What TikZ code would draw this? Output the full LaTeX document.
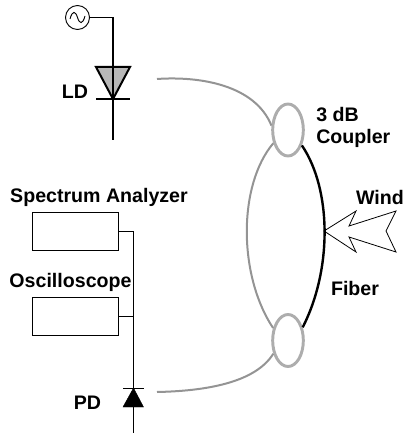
\documentclass[tikz,border=0pt]{standalone}
\usepackage{fontspec}
\setmainfont{Liberation Sans}
\usetikzlibrary{shapes.geometric}
\tikzset{
	lbl/.style={font=\bfseries\fontsize{14.7}{16.6}\selectfont,inner sep=0pt},
	coupler/.style={draw=black!32,line width=2.2pt,ellipse,minimum width=23pt,minimum height=39pt,inner sep=0pt},
	instr/.style={draw,line width=0.6pt,minimum width=64.5pt,minimum height=29pt,inner sep=0pt},
	fibre/.style={draw=black!42,line width=1.5pt},
	wire/.style={line width=1.5pt},
}
\begin{document}
\begin{tikzpicture}[x=0.75pt,y=-0.75pt]
	\useasboundingbox (0,0) rectangle (405,434);
	% laser branch
	\node[draw,circle,line width=0.7pt,minimum size=18pt,inner sep=0pt] (src) at (77.5,17.5) {};
	\coordinate (ldtop) at (113,17.5);
	\coordinate (ldl) at (96,67);
	\coordinate (ldr) at (130,67);
	\coordinate (ldk) at (113,99);
	\coordinate (ldkl) at (96,99);
	\coordinate (ldkr) at (130,99);
	\coordinate (ldend) at (113,140);
	\draw[line width=0.7pt] (70,19) .. controls (72.5,10) and (75.5,11) .. (77.5,17.5) .. controls (79.5,24) and (82.5,25) .. (85,16);
	\draw[fill=black!28,wire] (ldl) -- (ldr) -- (ldk) -- cycle;
	\draw[line width=1.1pt] (src) -- (ldtop);
	\draw[wire] (ldtop) -- (ldk) -- (ldend);
	\draw[wire] (ldkl) -- (ldkr);
	\node[lbl] (ld) at (75,92) {LD};
	% couplers and fibre
	\node[coupler] (cup) at (288,130) {};
	\node[coupler] (cdn) at (288,340.5) {};
	\coordinate (ldout) at (157,79);
	\coordinate (pdout) at (157,392);
	\draw[fibre] (ldout) .. controls (200,76) and (255,85) .. (cup.165);
	\draw[fibre] (cup.222) .. controls (238,185) and (238,275) .. (cdn.140);
	\draw[fibre] (pdout) .. controls (205,391) and (255,383) .. (cdn.222);
	\draw[line width=1.8pt] (cup.-48) .. controls (332,190) and (332,270) .. (cdn.42);
	\node[lbl,align=left,anchor=north west] (cname) at (316,107) {3 dB\\Coupler};
	\node[lbl] (fname) at (355,288) {Fiber};
	% wind arrow
	\draw[line width=0.6pt] (324,231) -- (356,211) -- (349,226) -- (396,211) -- (386,231) -- (396,252) -- (349,237) -- (356,252) -- cycle;
	\node[lbl] (wname) at (380,197) {Wind};
	% instruments
	\node[instr] (sa) at (75,231.5) {};
	\node[instr] (osc) at (75,316.5) {};
	\node[lbl] (saname) at (99,197) {Spectrum Analyzer};
	\node[lbl] (oscname) at (70.5,282) {Oscilloscope};
	\coordinate (busa) at (133.5,231.5);
	\coordinate (buosc) at (133.5,316.5);
	\coordinate (pda) at (133.5,388);
	\coordinate (pdl) at (123,407);
	\coordinate (pdr) at (143.5,407);
	\coordinate (pdend) at (133.5,433);
	\draw[line width=0.65pt] (sa.east) -- (busa) -- (buosc);
	\draw[line width=0.65pt] (osc.east) -- (buosc) -- (133.5,360);
	\draw[line width=1pt] (133.5,360) -- (pda);
	\draw[line width=0.7pt] (123,388) -- (143.5,388);
	\draw[fill=black,line width=0.3pt] (pda) -- (pdr) -- (pdl) -- cycle;
	\draw[line width=1pt] (133.5,407) -- (pdend);
	\node[lbl] (pd) at (87.5,403) {PD};
\end{tikzpicture}
\end{document}
